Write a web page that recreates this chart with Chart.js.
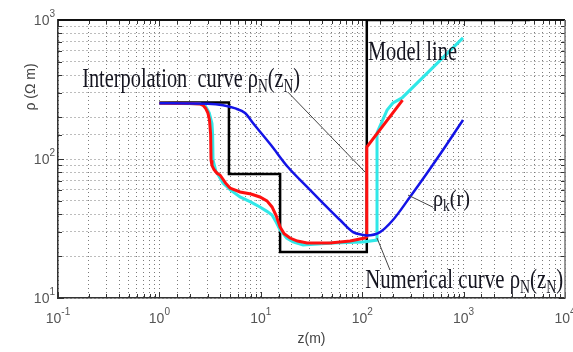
<!DOCTYPE html>
<html>
<head>
<meta charset="utf-8">
<script src="https://cdn.jsdelivr.net/npm/chart.js@4.4.1/dist/chart.umd.min.js"></script>
<style>
  body { margin: 0; background: #fff; }
  canvas { display: block; }
</style>
</head>
<body>
<canvas id="rho-chart" width="573" height="352"></canvas>
<script>
/* Data */
// model line (black steps)
const modelZ   = [1, 4.85, 4.85, 15.5, 15.5, 111, 111, 4500];
const modelRho = [255, 255, 78, 78, 21.4, 21.4, 1000, 1000];

// interpolation curve rhoN(zN) (red)
const interpZ   = [1.0, 2.0, 2.51, 2.7, 2.85, 3.01, 3.12, 3.2, 3.23, 3.3, 3.45, 3.7, 3.96, 4.5, 4.97, 6.24, 8.0, 9.8, 11.5, 12.9, 14.2, 15.5, 17.0, 19.4, 23.0, 28.6, 48.0, 76.0, 106, 111, 111, 250];
const interpRho = [252, 251, 249, 243, 232, 214, 190, 150, 98, 90, 84, 79, 76.7, 67, 61.8, 57.9, 56, 53.3, 50, 45.2, 39, 32.4, 29, 27, 25.7, 24.9, 24.9, 25.7, 27, 27.5, 122, 265];

// numerical curve rhoN(zN) (cyan)
const numZ   = [1.0, 2.5, 2.85, 3.1, 3.3, 3.35, 3.38, 3.6, 4.24, 5.0, 6.24, 8.0, 9.8, 11.5, 12.9, 14.2, 15.5, 18.0, 20.8, 26.1, 51.5, 102, 140, 140, 176, 201, 247, 986];
const numRho = [252, 250, 240, 215, 180, 150, 98, 82, 67.2, 60, 53.3, 49, 45.2, 42, 39.6, 35, 30.9, 27, 25.3, 24.1, 24.9, 25.3, 26.1, 154, 225, 253, 275, 743];

// apparent resistivity rhok(r) (blue)
const kR   = [1.0, 3.0, 4.24, 5.5, 7.0, 8.4, 12.6, 18.5, 28.6, 41.0, 60.4, 81.1, 102, 111, 150, 201, 296, 435, 626, 986];
const kRho = [252, 250, 244, 232, 214, 181, 126, 87.5, 63, 48.2, 36.4, 29.8, 28.4, 28.2, 29.8, 36.4, 53.3, 79, 116, 191];

// tick labels: base 10 with these exponents
const tickBase = '10';
const xTickExp = ['-1', '0', '1', '2', '3', '4'];
const yTickExp = ['1', '2', '3'];

// text on the plot, anchored in data coordinates (left edge, baseline)
const notes = [
  { parts: [['Model line']], z: 114, rho: 515, size: 27, width: 89 },
  { parts: [['Interpolation  curve ρ'], ['N', 1], ['(z'], ['N', 1], [')']], z: 0.173, rho: 330, size: 27, width: 218 },
  { parts: [['Numerical curve ρ'], ['N', 1], ['(z'], ['N', 1], [')']], z: 107, rho: 11.8, size: 27, width: 198 },
  { parts: [['ρ'], ['k', 1], ['(r)']], z: 499, rho: 46, size: 24, width: 37 }
];
// leader lines from the labels to the curves
const leaders = [
  [[18.5, 303], [106.6, 80.6]],
  [[283, 55], [499, 45]],
  [[140, 27], [188, 15.9]]
];

const toXY = (xs, ys) => xs.map((x, i) => ({ x: x, y: ys[i] }));

function expOf(v) {
  const e = Math.log10(v);
  return Math.abs(e - Math.round(e)) < 1e-6 ? Math.round(e) : null;
}

function drawRich(ctx, parts, size, x, y, width) {
  const big = size + 'px "Liberation Serif", "Times New Roman", serif';
  const small = Math.round(size * 0.68) + 'px "Liberation Serif", "Times New Roman", serif';
  let w = 0;
  parts.forEach(p => { ctx.font = p[1] ? small : big; w += ctx.measureText(p[0]).width; });
  ctx.save();
  ctx.translate(x, y);
  ctx.scale(width / w, 1);
  ctx.fillStyle = '#151520';
  ctx.textBaseline = 'alphabetic';
  let cx = 0;
  parts.forEach(p => {
    ctx.font = p[1] ? small : big;
    ctx.fillText(p[0], cx, p[1] ? size * 0.2 : 0);
    cx += ctx.measureText(p[0]).width;
  });
  ctx.restore();
}

const baseFont = '14px "Liberation Sans", Arial, sans-serif';
const expFont = '10px "Liberation Sans", Arial, sans-serif';

// draws "10" with a raised exponent; align 'center' or 'right'
function drawPow(ctx, exp, x, baseY, align) {
  ctx.font = baseFont;
  const wb = ctx.measureText(tickBase).width;
  ctx.font = expFont;
  const we = ctx.measureText(exp).width;
  const left = align === 'right' ? x - wb - we : x - (wb + we) / 2;
  ctx.font = baseFont;
  ctx.fillText(tickBase, left, baseY);
  ctx.font = expFont;
  ctx.fillText(exp, left + wb, baseY - 8);
}

// box + inward ticks, matlab style
const axisBox = {
  id: 'axisBox',
  beforeDatasetsDraw(chart) {
    const { ctx, chartArea: a, scales: { x, y } } = chart;
    ctx.save();
    ctx.strokeStyle = '#333';
    ctx.lineWidth = 1;
    ctx.beginPath();
    x.ticks.forEach(t => {
      const px = Math.round(x.getPixelForValue(t.value)) + 0.5;
      const len = expOf(t.value) !== null ? 6 : 4;
      ctx.moveTo(px, a.bottom); ctx.lineTo(px, a.bottom - len);
      ctx.moveTo(px, a.top); ctx.lineTo(px, a.top + len);
    });
    y.ticks.forEach(t => {
      const py = Math.round(y.getPixelForValue(t.value)) + 0.5;
      const len = expOf(t.value) !== null ? 6 : 4;
      ctx.moveTo(a.left, py); ctx.lineTo(a.left + len, py);
      ctx.moveTo(a.right, py); ctx.lineTo(a.right - len, py);
    });
    ctx.stroke();
    ctx.lineWidth = 2;
    ctx.strokeStyle = '#111';
    ctx.beginPath();
    ctx.moveTo(a.left, a.top); ctx.lineTo(a.right, a.top);
    ctx.stroke();
    ctx.lineWidth = 1.5;
    ctx.strokeStyle = '#777';
    ctx.beginPath();
    ctx.moveTo(a.right, a.top); ctx.lineTo(a.right, a.bottom);
    ctx.stroke();
    ctx.restore();
  },
  afterDatasetsDraw(chart) {
    const { ctx, chartArea: a, scales: { x, y } } = chart;
    ctx.save();
    ctx.strokeStyle = '#444';
    ctx.lineWidth = 1;
    leaders.forEach(l => {
      ctx.beginPath();
      ctx.moveTo(x.getPixelForValue(l[0][0]), y.getPixelForValue(l[0][1]));
      ctx.lineTo(x.getPixelForValue(l[1][0]), y.getPixelForValue(l[1][1]));
      ctx.stroke();
    });
    notes.forEach(n => {
      drawRich(ctx, n.parts, n.size, x.getPixelForValue(n.z), y.getPixelForValue(n.rho), n.width);
    });

    // decade labels on both axes
    ctx.fillStyle = '#555';
    ctx.textBaseline = 'alphabetic';
    ctx.textAlign = 'left';
    x.ticks.forEach(t => {
      const e = expOf(t.value);
      if (e === null) return;
      drawPow(ctx, xTickExp[e + 1], x.getPixelForValue(t.value), a.bottom + 25, 'center');
    });
    y.ticks.forEach(t => {
      const e = expOf(t.value);
      if (e === null) return;
      drawPow(ctx, yTickExp[e - 1], a.left - 3, y.getPixelForValue(t.value) + 5, 'right');
    });

    // y axis title sits high on the axis
    ctx.translate(a.left - 27, a.top + 67);
    ctx.rotate(-Math.PI / 2);
    ctx.font = '14px "Liberation Sans", Arial, sans-serif';
    ctx.fillStyle = '#444';
    ctx.textAlign = 'center';
    ctx.textBaseline = 'middle';
    ctx.fillText('ρ (Ω m)', 0, 0);
    ctx.restore();
  }
};

const data = {
  datasets: [
    { label: 'rhok(r)', data: toXY(kR, kRho), borderColor: '#1414e6', borderWidth: 2.5, cubicInterpolationMode: 'monotone' },
    { label: 'Interpolation', data: toXY(interpZ, interpRho), borderColor: '#ff1010', borderWidth: 3 },
    { label: 'Numerical', data: toXY(numZ, numRho), borderColor: '#30e8e8', borderWidth: 3 },
    { label: 'Model line', data: toXY(modelZ, modelRho), borderColor: '#000', borderWidth: 2.5 }
  ]
};

const config = {
  type: 'line',
  data: data,
  options: {
    responsive: false,
    animation: false,
    layout: { padding: { left: 0, top: 20, right: 8, bottom: 0 } },
    elements: { point: { radius: 0 }, line: { tension: 0 } },
    plugins: { legend: { display: false }, tooltip: { enabled: false } },
    scales: {
      x: {
        type: 'logarithmic',
        min: 0.1,
        max: 10000,
        grid: { color: '#7a7a7a', lineWidth: 1, drawTicks: false },
        border: { color: '#333', width: 1.5, dash: [1, 3] },
        ticks: { autoSkip: false, maxRotation: 0, callback: () => '' },
        title: { display: true, text: 'z(m)', color: '#444', font: { family: '"Liberation Sans", Arial, sans-serif', size: 14 }, padding: { top: 0, bottom: 4 } },
        afterFit: s => { s.height = 54; s.paddingLeft = 0; s.paddingRight = 0; }
      },
      y: {
        type: 'logarithmic',
        min: 10,
        max: 1000,
        grid: { color: '#7a7a7a', lineWidth: 1, drawTicks: false },
        border: { color: '#333', width: 1.5, dash: [1, 3] },
        ticks: { autoSkip: false, callback: () => '' },
        afterFit: s => { s.width = 58; s.paddingTop = 0; s.paddingBottom = 0; }
      }
    }
  },
  plugins: [axisBox]
};

// Chart Activation
let ctx = document.getElementById('rho-chart').getContext('2d');
let rhoChart = new Chart(ctx, config);
</script>
</body>
</html>
